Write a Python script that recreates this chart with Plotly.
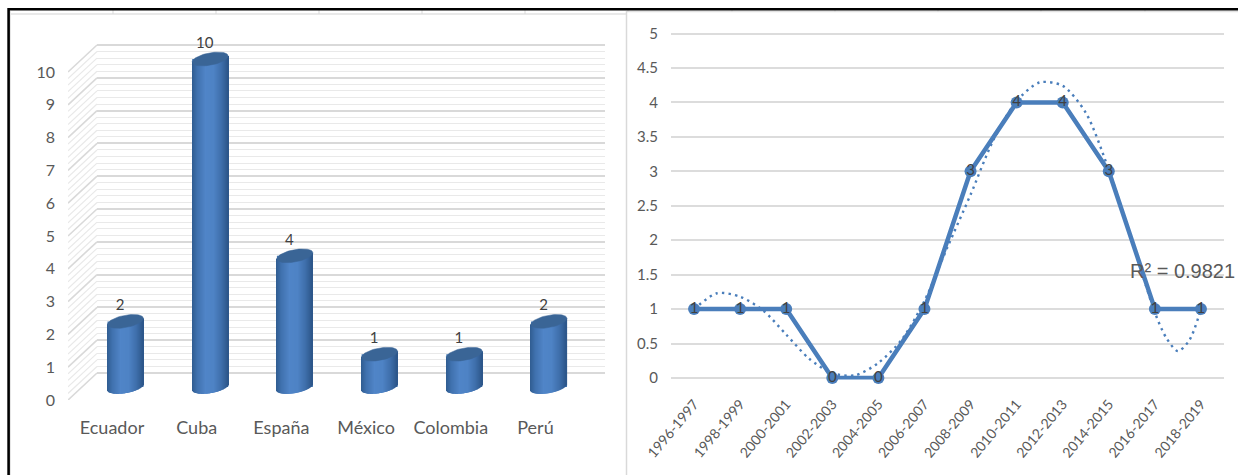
import numpy as np
import plotly.graph_objects as go

# Publications by country (3D-style cylinders)
countries = ["Ecuador", "Cuba", "España", "México", "Colombia", "Perú"]
country_counts = [2, 10, 4, 1, 1, 2]

# Publications by two-year period
periods = ["1996-1997", "1998-1999", "2000-2001", "2002-2003", "2004-2005", "2006-2007",
           "2008-2009", "2010-2011", "2012-2013", "2014-2015", "2016-2017", "2018-2019"]
period_counts = [1, 1, 1, 0, 0, 1, 3, 4, 4, 3, 1, 1]

# Dotted polynomial trend, sampled at half-period steps
trend_pos = [0, 0.5, 1, 1.5, 2, 2.5, 3, 3.5, 4, 4.5, 5, 5.5, 6, 6.5, 7, 7.5, 8, 8.5, 9, 9.5, 10, 10.25, 10.5, 10.75, 11]
trend_val = [1.0, 1.23, 1.18, 0.98, 0.63, 0.28, 0.07, 0.04, 0.22, 0.55, 1.12, 1.9, 2.66, 3.46, 4.02, 4.29, 4.24,
             3.85, 3.02, 2.0, 0.95, 0.58, 0.39, 0.55, 1.0]
r_squared = "R² = 0.9821"

W, H = 1238, 475
FONT = "Lato, sans-serif"
TEXT = "#595959"
BLUE = "#4a7ebb"
GRID_PAD = 0.05


def xdom(a, b):
    return [a / W, b / W]


def ydom(top, bottom):
    return [1 - bottom / H, 1 - top / H]


# Pixel scale of the 3D chart
cat_px, val_px = 84.7, 32.8
front_left, front_cat0, front_base = 68, 112, 400
depth_x, depth_y = 29, 27
bar_half, cap_b, cap_tilt = 18, 6.2, 3.0
mid_lift = 13 / val_px
bar_shift = 13.5 / cat_px
x2_left = (front_left - front_cat0) / cat_px
wall_pad = GRID_PAD * val_px

# Pixel scale of the line chart; the axis range runs slightly past 0 and 5 so both end gridlines draw
line_top, line_bottom = 33.5, 378
line_pad = 0.02
line_val_px = (line_bottom - line_top) / 5

fig = go.Figure()

major = list(range(0, 11))
minor = [round(v * 0.2, 1) for v in range(0, 51) if v % 5]

# Back wall: a subplot of its own, shifted up and right, carrying only gridlines
fig.add_trace(go.Scatter(x=[0], y=[0], mode="markers", marker=dict(opacity=0), xaxis="x", yaxis="y",
                         hoverinfo="skip"))


# Side wall diagonals, running from the front plane back to the wall
def side_lines(levels):
    xs, ys = [], []
    for v in levels:
        xs += [x2_left, x2_left + depth_x / cat_px, None]
        ys += [v, v + depth_y / val_px, None]
    return xs, ys


for levels, colour, width in ((minor, "#e9e9e9", 1.2), (major, "#d9d9d9", 1.6)):
    sx, sy = side_lines(levels)
    fig.add_trace(go.Scatter(x=sx, y=sy, mode="lines", xaxis="x2", yaxis="y2",
                             line=dict(color=colour, width=width), hoverinfo="skip"))

# Cylinder bodies: a true-height bar beneath narrow strips that carry the shading
xpos = np.arange(len(countries)) + bar_shift
counts = np.array(country_counts, dtype=float)
fig.add_trace(go.Bar(x=xpos, y=counts, base=mid_lift, width=2 * bar_half / cat_px, xaxis="x2", yaxis="y2",
                     marker=dict(color="#4478b4", line=dict(width=0)), hoverinfo="skip"))

stops_u = [-1.0, -0.7, -0.25, 0.2, 0.65, 1.0]
stops_rgb = np.array([[48, 92, 145], [64, 114, 175], [80, 133, 200], [78, 131, 197], [62, 110, 170], [44, 86, 137]])
n_strips = 36
for i in range(n_strips):
    u = -1 + (2 * i + 1) / n_strips
    rgb = [int(np.interp(u, stops_u, stops_rgb[:, k])) for k in range(3)]
    arc = np.sqrt(max(0.0, 1 - u * u))
    low = (cap_tilt * u - cap_b * arc) / val_px
    mid = cap_tilt * u / val_px
    fig.add_trace(go.Bar(x=xpos + u * bar_half / cat_px, y=counts + mid - low, base=mid_lift + low,
                         width=1.25 * 2 * bar_half / n_strips / cat_px, xaxis="x2", yaxis="y2",
                         marker=dict(color=f"rgb({rgb[0]},{rgb[1]},{rgb[2]})", line=dict(width=0)),
                         hoverinfo="skip"))

# Elliptical caps on top of each cylinder
theta = np.linspace(0, 2 * np.pi, 61)
for px, v in zip(xpos, counts):
    u = np.cos(theta)
    ex = px + u * bar_half / cat_px
    ey = v + mid_lift + (cap_tilt * u + cap_b * np.sin(theta)) / val_px
    fig.add_trace(go.Scatter(x=ex, y=ey, mode="lines", fill="toself", fillcolor="#3a6596", xaxis="x2", yaxis="y2",
                             line=dict(color="#3a6596", width=0.5), hoverinfo="skip"))

# Value labels above the cylinders
fig.add_trace(go.Scatter(x=xpos - 5.5 / cat_px, y=counts + mid_lift + 15 / val_px, mode="text",
                         text=[str(c) for c in country_counts], textposition="middle center",
                         textfont=dict(family=FONT, size=15, color="#404040"),
                         xaxis="x2", yaxis="y2", cliponaxis=False, hoverinfo="skip"))

# Period series with its dotted trend
pos = list(range(len(periods)))
fig.add_trace(go.Scatter(x=pos, y=period_counts, mode="lines+markers", xaxis="x3", yaxis="y3", cliponaxis=False,
                         line=dict(color=BLUE, width=4.5), marker=dict(color=BLUE, size=12), hoverinfo="skip"))
fig.add_trace(go.Scatter(x=trend_pos, y=trend_val, mode="lines", xaxis="x3", yaxis="y3", cliponaxis=False,
                         line=dict(color=BLUE, width=2.4, dash="2.4px,4.2px", shape="spline", smoothing=0.8),
                         hoverinfo="skip"))
fig.add_trace(go.Scatter(x=pos, y=period_counts, mode="text", text=[str(v) for v in period_counts],
                         textposition="middle center", textfont=dict(family=FONT, size=15, color="#404040"),
                         xaxis="x3", yaxis="y3", cliponaxis=False, hoverinfo="skip"))

hidden = dict(showgrid=False, zeroline=False, showline=False, ticks="", showticklabels=False, automargin=False)

layout = dict(
    width=W, height=H, autosize=False, margin=dict(l=0, r=0, t=0, b=0, pad=0),
    paper_bgcolor="white", plot_bgcolor="rgba(0,0,0,0)", showlegend=False, barmode="overlay",
    # back wall
    xaxis=dict(domain=xdom(front_left + depth_x, front_left + depth_x + 6 * cat_px), range=[-0.5, 5.5], **hidden),
    yaxis=dict(domain=ydom(front_base - depth_y - 10 * val_px - wall_pad, front_base - depth_y + wall_pad),
               range=[-GRID_PAD, 10 + GRID_PAD],
               showgrid=True, gridcolor="#d9d9d9", gridwidth=1.6, dtick=1, tick0=0, zeroline=False,
               showticklabels=False, ticks="", automargin=False,
               minor=dict(dtick=0.2, tick0=0, showgrid=True, gridcolor="#e9e9e9", gridwidth=1.2, ticks="")),
    # cylinders, on the front plane
    xaxis2=dict(domain=xdom(front_left, 620), anchor="y2", automargin=False,
                range=[x2_left, (620 - front_cat0) / cat_px],
                tickmode="array", tickvals=list(range(len(countries))), ticktext=countries,
                tickfont=dict(family=FONT, size=18, color=TEXT), ticks="", ticklabelstandoff=15,
                showgrid=False, zeroline=False, showline=False),
    yaxis2=dict(domain=ydom(30, front_base), anchor="x2", automargin=False, range=[0, (front_base - 30) / val_px],
                tickmode="array", tickvals=major, tickfont=dict(family=FONT, size=16, color=TEXT),
                ticks="", ticklabelstandoff=12, showgrid=False, zeroline=False, showline=False),
    # period line chart
    xaxis3=dict(domain=xdom(671, 1224), anchor="y3", automargin=False, range=[-0.5, 11.5],
                tickmode="array", tickvals=pos, ticktext=periods, tickangle=-50,
                tickfont=dict(family=FONT, size=14, color=TEXT), ticks="", ticklabelstandoff=13,
                showgrid=False, zeroline=False, showline=False),
    yaxis3=dict(domain=ydom(line_top - line_pad * line_val_px, line_bottom + line_pad * line_val_px),
                anchor="x3", automargin=False, range=[-line_pad, 5 + line_pad], dtick=0.5, tick0=0,
                tickformat="~g", tickfont=dict(family=FONT, size=15, color=TEXT), ticks="", ticklabelstandoff=12,
                showgrid=True, gridcolor="#dcdcdc", gridwidth=1.6, zeroline=False, showline=False),
)
fig.update_layout(**layout)

fig.add_annotation(text=r_squared, xref="paper", yref="paper", x=1128 / W, y=1 - 271 / H, xanchor="left",
                   yanchor="middle", showarrow=False,
                   font=dict(family="Liberation Sans, Arial, sans-serif", size=20, color=TEXT))


# Frame and the ruler remnants along the top edge
def rule(x0, y0, x1, y1, colour, width):
    fig.add_shape(type="line", xref="paper", yref="paper", x0=x0 / W, x1=x1 / W, y0=1 - y0 / H, y1=1 - y1 / H,
                  line=dict(color=colour, width=width))


rule(10, 14, 626, 14, "#e2e2e2", 1.5)
rule(627, 11.5, W, 11.5, "#e2e2e2", 1.5)
rule(626.5, 11, 626.5, H, "#d9d9d9", 1.5)
rule(10.5, 11, 10.5, H, "#e6e6e6", 1)
for tx in (113, 216, 319, 422, 525):
    rule(tx, 10, tx, 14, "#d9d9d9", 1)
for tx in (628, 732, 835, 938, 1041, 1145):
    rule(tx, 10, tx, 12, "#d9d9d9", 1)
rule(8, 9.2, W, 9.2, "#000000", 2.6)
rule(8.6, 8, 8.6, H, "#000000", 2.6)

fig.write_html("out.html")
